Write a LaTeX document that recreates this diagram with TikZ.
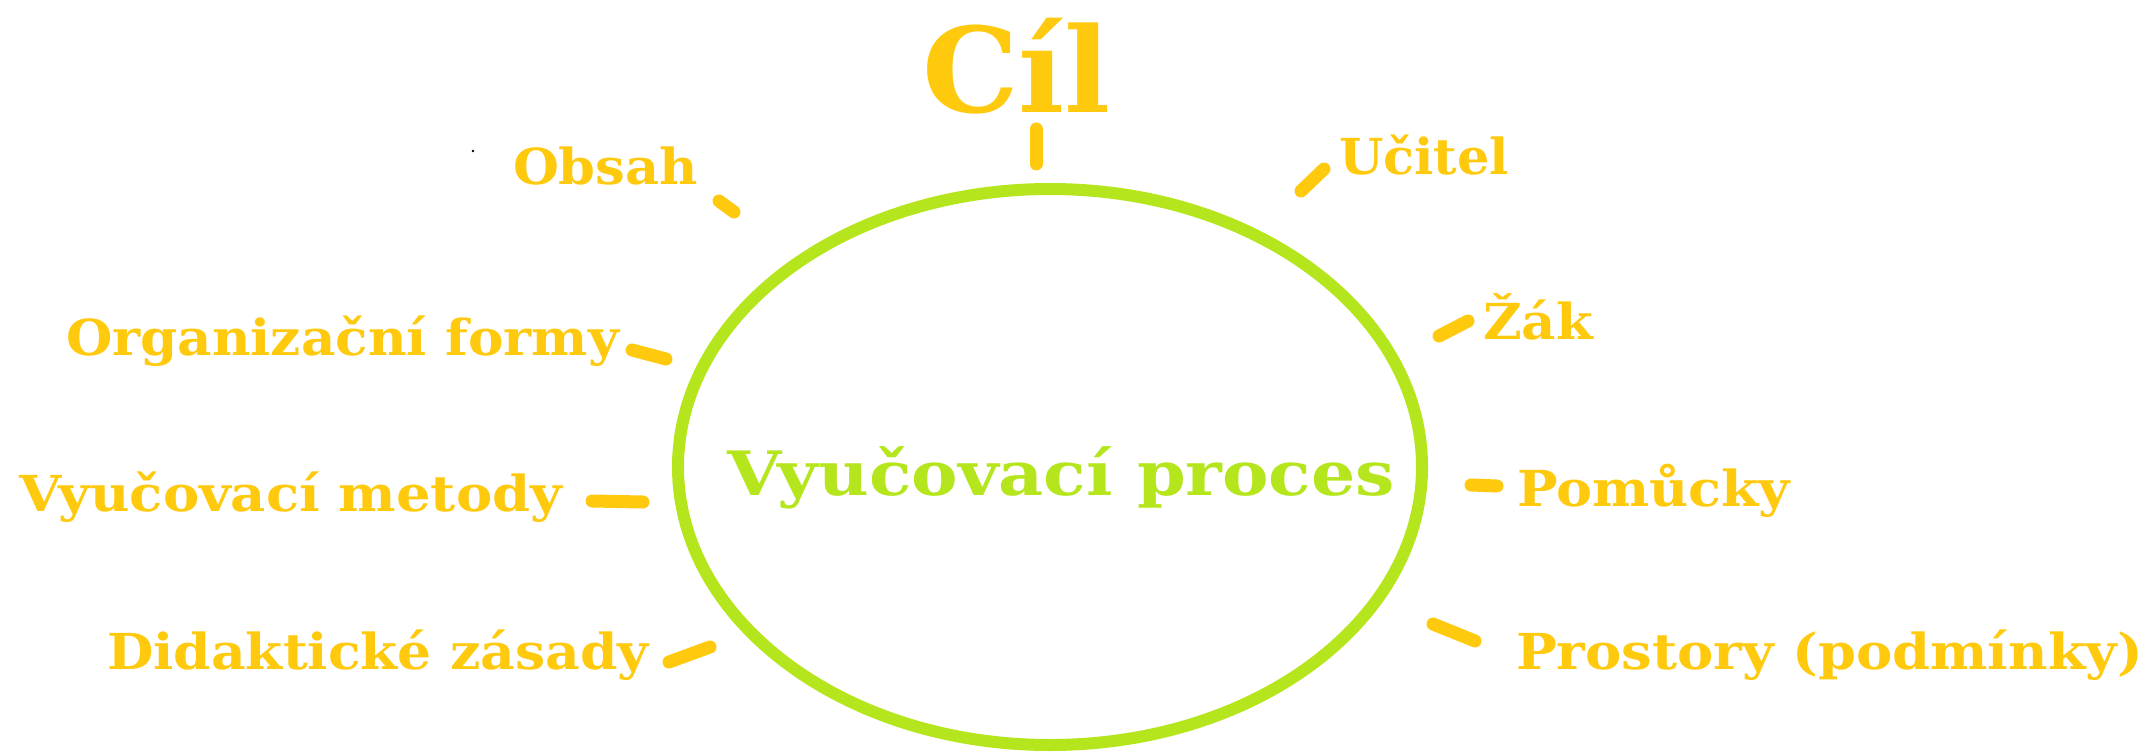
\documentclass[tikz,border=0pt]{standalone}
\usepackage{fontspec}
\usetikzlibrary{shapes.geometric}
\newfontfamily\labfont{DejaVu Serif Condensed Bold}
\definecolor{gold}{HTML}{FFC90E}
\definecolor{lime}{HTML}{B5E61D}
% set a label to a given width (pt) and vertical scale, keeping its baseline
\newcommand\fitw[3]{\resizebox{#1pt}{#2\height}{#3}}
\tikzset{
  lab/.style={anchor=base west, inner sep=0pt, outer sep=0pt, text=gold, font=\labfont\fontsize{40}{48}\selectfont},
  core/.style={lab, text=lime},
  tick/.style={draw=gold, line width=13pt, line cap=round},
  ring/.style={draw=lime, line width=12pt, ellipse, inner sep=0pt,
    minimum width=744pt, minimum height=556pt},
}
\begin{document}
\begin{tikzpicture}[x=1pt,y=1pt]
\useasboundingbox (0,0) rectangle (2151,-754);

% the teaching process in the middle
\node[ring] (ring) at (1050,-467) {};
\node[core] (proc) at (727,-495) {\fitw{668}{1.53}{Vyučovací proces}};

% goal and the factors around it
\node[lab] (cil)   at (922,-113) {\fitw{189}{2.95}{Cíl}};
\node[lab] (obsah) at (513,-185) {\fitw{185}{1.24}{Obsah}};
\node[lab] (ucit)  at (1339,-175) {\fitw{170}{1.24}{Učitel}};
\node[lab] (zak)   at (1483,-339) {\fitw{110}{1.24}{Žák}};
\node[lab] (org)   at (66,-355) {\fitw{553}{1.24}{Organizační formy}};
\node[lab] (met)   at (19,-511) {\fitw{543}{1.24}{Vyučovací metody}};
\node[lab] (pom)   at (1517,-506) {\fitw{273}{1.24}{Pomůcky}};
\node[lab] (did)   at (107,-669) {\fitw{542}{1.24}{Didaktické zásady}};
\node[lab] (pros)  at (1516,-669) {\fitw{627}{1.24}{Prostory (podmínky)}};

% short strokes pointing from each label towards the ring
\coordinate (cilA) at (1036,-129);  \coordinate (cilB) at (1036,-164);
\coordinate (obsA) at (719,-201);   \coordinate (obsB) at (734,-212);
\coordinate (ucA)  at (1301,-191);  \coordinate (ucB)  at (1324,-169);
\coordinate (zkA)  at (1439,-336);  \coordinate (zkB)  at (1468,-321);
\coordinate (orA)  at (632,-350);   \coordinate (orB)  at (666,-359);
\coordinate (meA)  at (592,-501);   \coordinate (meB)  at (643,-502);
\coordinate (poA)  at (1471,-485);  \coordinate (poB)  at (1497,-486);
\coordinate (diA)  at (669,-662);   \coordinate (diB)  at (710,-647);
\coordinate (prA)  at (1433,-624);  \coordinate (prB)  at (1475,-641);

\draw[tick] (cilA) -- (cilB);
\draw[tick] (obsA) -- (obsB);
\draw[tick] (ucA) -- (ucB);
\draw[tick] (zkA) -- (zkB);
\draw[tick] (orA) -- (orB);
\draw[tick] (meA) -- (meB);
\draw[tick] (poA) -- (poB);
\draw[tick] (diA) -- (diB);
\draw[tick] (prA) -- (prB);

% stray speck left of the content label
\fill (473,-151) circle (1.3);
\end{tikzpicture}
\end{document}
